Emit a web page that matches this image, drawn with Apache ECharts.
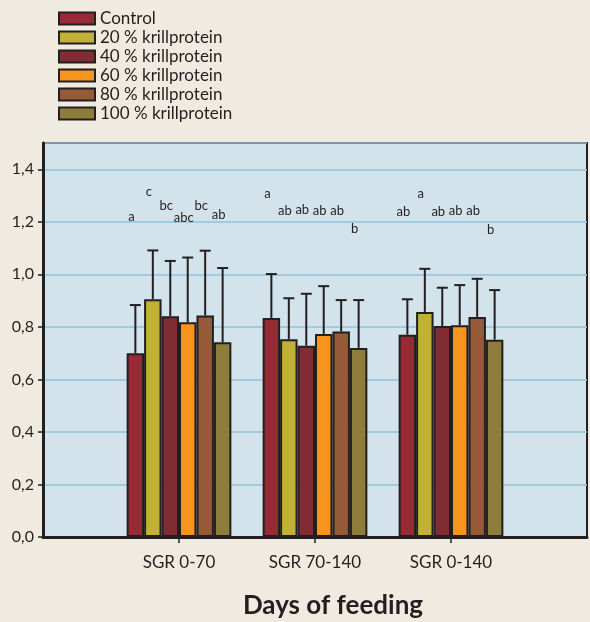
<!DOCTYPE html>
<html>
<head>
<meta charset="utf-8">
<script src="https://cdn.jsdelivr.net/npm/echarts@6/dist/echarts.min.js"></script>
<style>
html,body{margin:0;padding:0;background:#f0ebe1;}
#chart{width:590px;height:622px;}
</style>
</head>
<body>
<div id="chart"></div>
<script>
// Categories (blank ends give the empty space at both sides of the axis)
var categories = ['', 'SGR 0-70', 'SGR 70-140', 'SGR 0-140', ''];
var seriesNames = ['Control', '20 % krillprotein', '40 % krillprotein', '60 % krillprotein', '80 % krillprotein', '100 % krillprotein'];
var seriesColors = ['#982a35', '#c1b136', '#822d36', '#f7941e', '#965a38', '#8f7d3c'];

// Mean values
var control = [null, 0.70, 0.834, 0.770, null];
var krill20 = [null, 0.905, 0.753, 0.857, null];
var krill40 = [null, 0.840, 0.728, 0.803, null];
var krill60 = [null, 0.818, 0.773, 0.806, null];
var krill80 = [null, 0.843, 0.782, 0.838, null];
var krill100 = [null, 0.741, 0.720, 0.751, null];

// Upper end of error bars
var controlErr = [null, 0.883, 1.001, 0.905, null];
var krill20Err = [null, 1.091, 0.909, 1.021, null];
var krill40Err = [null, 1.051, 0.926, 0.949, null];
var krill60Err = [null, 1.064, 0.955, 0.959, null];
var krill80Err = [null, 1.090, 0.902, 0.983, null];
var krill100Err = [null, 1.024, 0.902, 0.940, null];

// Significance letters and their heights
var controlLet = [null, 'a', 'a', 'ab', null];
var krill20Let = [null, 'c', 'ab', 'a', null];
var krill40Let = [null, 'bc', 'ab', 'ab', null];
var krill60Let = [null, 'abc', 'ab', 'ab', null];
var krill80Let = [null, 'bc', 'ab', 'ab', null];
var krill100Let = [null, 'ab', 'b', 'b', null];

var controlLetY = [null, 1.219, 1.305, 1.237, null];
var krill20LetY = [null, 1.314, 1.242, 1.308, null];
var krill40LetY = [null, 1.261, 1.247, 1.237, null];
var krill60LetY = [null, 1.215, 1.240, 1.242, null];
var krill80LetY = [null, 1.262, 1.243, 1.240, null];
var krill100LetY = [null, 1.227, 1.172, 1.168, null];

var yTicks = [0, 0.2, 0.4, 0.6, 0.8, 1.0, 1.2, 1.4];

var means = [control, krill20, krill40, krill60, krill80, krill100];
var errs = [controlErr, krill20Err, krill40Err, krill60Err, krill80Err, krill100Err];
var lets = [controlLet, krill20Let, krill40Let, krill60Let, krill80Let, krill100Let];
var letYs = [controlLetY, krill20LetY, krill40LetY, krill60LetY, krill80LetY, krill100LetY];

var FONT = 'Lato';
var INK = '#231f20';
var GAP = 0.23;
var N = seriesNames.length;

var series = [];
seriesNames.forEach(function (name, i) {
  series.push({
    name: name,
    type: 'bar',
    data: means[i],
    barGap: 0,
    barCategoryGap: (GAP * 100) + '%',
    itemStyle: { color: seriesColors[i], borderColor: INK, borderWidth: 2 },
    z: 2
  });
});

seriesNames.forEach(function (name, i) {
  var d = [];
  for (var k = 0; k < categories.length; k++) {
    if (means[i][k] != null) d.push([k, means[i][k], errs[i][k], letYs[i][k], lets[i][k]]);
  }
  series.push({
    type: 'custom',
    data: d,
    z: 5,
    silent: true,
    renderItem: function (params, api) {
      var cat = api.value(0);
      var c = api.coord([cat, api.value(1)]);
      var top = api.coord([cat, api.value(2)]);
      var lt = api.coord([cat, api.value(3)]);
      var band = api.size([1, 0])[0];
      var total = band * (1 - GAP);
      var bw = total / N;
      var x = c[0] - total / 2 + bw * (i + 0.5);
      var half = 5.5;
      return {
        type: 'group',
        children: [
          { type: 'line', shape: { x1: x, y1: c[1], x2: x, y2: top[1] }, style: { stroke: INK, lineWidth: 2 } },
          { type: 'line', shape: { x1: x - half, y1: top[1], x2: x + half, y2: top[1] }, style: { stroke: INK, lineWidth: 2 } },
          { type: 'text', x: x - 4, y: lt[1], style: { text: lets[i][cat], fill: INK, fontFamily: FONT, fontSize: 13, align: 'center', verticalAlign: 'middle' } }
        ]
      };
    }
  });
});

var chart = echarts.init(document.getElementById('chart'));
chart.setOption({
  backgroundColor: '#f0ebe1',
  animation: false,
  legend: {
    data: seriesNames,
    icon: 'rect',
    orient: 'vertical',
    left: 53,
    top: 4,
    itemWidth: 36,
    itemHeight: 12,
    itemGap: 0,
    textStyle: { fontFamily: FONT, fontSize: 17, lineHeight: 19, color: INK }
  },
  grid: {
    left: 43, right: 0, top: 143, bottom: 85,
    show: true,
    backgroundColor: '#d3e3eb',
    borderColor: INK,
    borderWidth: 2
  },
  xAxis: {
    type: 'category',
    data: categories,
    boundaryGap: false,
    axisLine: { lineStyle: { color: INK, width: 3 } },
    axisTick: { length: 6, lineStyle: { color: INK, width: 1.5 }, interval: function (idx, val) { return val !== ''; } },
    axisLabel: { fontFamily: FONT, fontSize: 17, color: INK, margin: 17, interval: 0 },
    splitLine: { show: false }
  },
  yAxis: {
    type: 'value',
    min: 0,
    max: 1.5,
    interval: 0.2,
    axisLine: { show: true, lineStyle: { color: INK, width: 3 } },
    axisTick: { show: true, length: 5, lineStyle: { color: INK, width: 1.5 } },
    axisLabel: {
      fontFamily: FONT, fontSize: 16, color: INK, margin: 9, showMaxLabel: false,
      formatter: function (v) {
        for (var t = 0; t < yTicks.length; t++) {
          if (Math.abs(yTicks[t] - v) < 1e-6) return yTicks[t].toFixed(1).replace('.', ',');
        }
        return '';
      }
    },
    splitLine: { lineStyle: { color: '#92c0df', width: 1.5 } }
  },
  graphic: [{
    type: 'text',
    x: 333,
    y: 606,
    style: { text: 'Days of feeding', fill: INK, fontFamily: FONT, fontWeight: 'bold', fontSize: 26, align: 'center', verticalAlign: 'middle' }
  }],
  series: series
});
</script>
</body>
</html>
